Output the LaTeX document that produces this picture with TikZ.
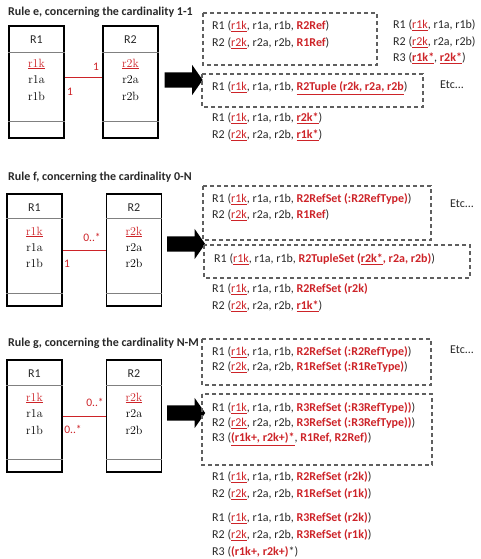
\documentclass[tikz,border=0pt]{standalone}
\usepackage{fontspec}
\setsansfont{Carlito}
\usetikzlibrary{shapes.arrows, positioning}
\definecolor{keyred}{RGB}{205,35,40}
\definecolor{txtgray}{RGB}{40,40,40}
\definecolor{dashgray}{RGB}{95,95,95}
\newcommand{\kk}[1]{\textcolor{keyred}{\underline{#1}}}
\newcommand{\rb}[1]{\textcolor{keyred}{\textbf{#1}}}
\newcommand{\kb}[1]{\textcolor{keyred}{\underline{\textbf{#1}}}}
\tikzset{
  entity/.style={draw, line width=1.3pt, minimum width=55pt, minimum height=112pt, inner sep=0pt},
  sepline/.style={line width=0.7pt, gray},
  head/.style={font=\sffamily\fontsize{12}{14}\selectfont, text=txtgray},
  attr/.style={font=\fontsize{12}{14}\selectfont, text=black, inner sep=0pt},
  relline/.style={keyred, line width=0.8pt},
  card/.style={font=\sffamily\fontsize{11.5}{14}\selectfont, text=keyred, inner sep=0pt},
  bigarrow/.style={single arrow, fill=black, inner sep=7.5pt, minimum height=38pt,
    single arrow head extend=7.5pt, single arrow tip angle=110, shape border rotate=0},
  dashbox/.style={dashgray, line width=1.1pt, dash pattern=on 4pt off 3pt},
  line/.style={anchor=west, font=\sffamily\fontsize{12}{14}\selectfont, text=txtgray, inner sep=0pt},
  title/.style={anchor=west, font=\sffamily\bfseries\fontsize{12}{14}\selectfont, text=txtgray, inner sep=0pt}
}
\begin{document}
\begin{tikzpicture}[x=1pt, y=-1pt]
  \useasboundingbox (0,0) rectangle (480,559);
  % rule e
  \node (te)[title] at (8,12) {Rule e, concerning the cardinality 1-1};
  \node (e1)[entity] at (36.5,82) {};
  \node (e2)[entity] at (130.5,82) {};
  \draw[sepline] (e1.west |- 0,52) -- (e1.east |- 0,52);
  \draw[sepline] (e1.west |- 0,121) -- (e1.east |- 0,121);
  \draw[sepline] (e2.west |- 0,52) -- (e2.east |- 0,52);
  \draw[sepline] (e2.west |- 0,121) -- (e2.east |- 0,121);
  \node (e1n)[head] at (36.5,40) {R1};
  \node (e1k)[attr] at (36.5,64) {\kk{r1k}};
  \node (e1a)[attr] at (36.5,80) {r1a};
  \node (e1b)[attr] at (36.5,96) {r1b};
  \node (e2n)[head] at (130.5,40) {R2};
  \node (e2k)[attr] at (130.5,64) {\kk{r2k}};
  \node (e2a)[attr] at (130.5,80) {r2a};
  \node (e2b)[attr] at (130.5,96) {r2b};
  \draw[relline] (e1.east |- 0,77) -- (e2.west |- 0,77);
  \node (ec2)[card] at (96,67) {1};
  \node (ec1)[card] at (70,92) {1};
  \node (ea)[bigarrow] at (181,80) {};
  \draw[dashbox] (203,13) rectangle (377,65);
  \node (el1)[line] at (212,26) {R1 (\kk{r1k}, r1a, r1b, \rb{R2Ref})};
  \node (el2)[line] at (212,43) {R2 (\kk{r2k}, r2a, r2b, \rb{R1Ref})};
  \node (er1)[line] at (393,25) {R1 (\kk{r1k}, r1a, r1b)};
  \node (er2)[line] at (393,42) {R2 (\kk{r2k}, r2a, r2b)};
  \node (er3)[line] at (393,58) {R3 (\kb{r1k*}, \kb{r2k*})};
  \draw[dashbox] (202,74) rectangle (423,107);
  \node (el3)[line] at (212,88) {R1 (\kk{r1k}, r1a, r1b, \kb{R2Tuple (r2k, r2a, r2b})};
  \node (eetc)[line] at (440,85) {Etc...};
  \node (el4)[line] at (212,118) {R1 (\kk{r1k}, r1a, r1b, \kb{r2k*})};
  \node (el5)[line] at (212,135) {R2 (\kk{r2k}, r2a, r2b, \kb{r1k*})};
  % rule f
  \node (tf)[title] at (8,177) {Rule f, concerning the cardinality 0-N};
  \node (f1)[entity] at (34.5,250) {};
  \node (f2)[entity] at (134,250) {};
  \draw[sepline] (f1.west |- 0,218) -- (f1.east |- 0,218);
  \draw[sepline] (f1.west |- 0,293) -- (f1.east |- 0,293);
  \draw[sepline] (f2.west |- 0,218) -- (f2.east |- 0,218);
  \draw[sepline] (f2.west |- 0,293) -- (f2.east |- 0,293);
  \node (f1n)[head] at (34.5,208) {R1};
  \node (f1k)[attr] at (34.5,232) {\kk{r1k}};
  \node (f1a)[attr] at (34.5,248) {r1a};
  \node (f1b)[attr] at (34.5,263) {r1b};
  \node (f2n)[head] at (134,208) {R2};
  \node (f2k)[attr] at (134,232) {\kk{r2k}};
  \node (f2a)[attr] at (134,248) {r2a};
  \node (f2b)[attr] at (134,263) {r2b};
  \draw[relline] (f1) -- (f2);
  \node (fc2)[card] at (92,237) {0..*};
  \node (fc1)[card] at (67,264) {1};
  \node (fa)[bigarrow] at (183.5,244) {};
  \draw[dashbox] (203,186) rectangle (431,240);
  \node (fl1)[line] at (212,199) {R1 (\kk{r1k}, r1a, r1b, \rb{R2RefSet (:R2RefType)})};
  \node (fl2)[line] at (212,215) {R2 (\kk{r2k}, r2a, r2b, \rb{R1Ref})};
  \node (fetc)[line] at (450,204) {Etc...};
  \draw[dashbox] (204,245) rectangle (470,278);
  \node (fl3)[line] at (214,259) {R1 (\kk{r1k}, r1a, r1b, \rb{R2TupleSet (\underline{r2k*}, r2a, r2b)})};
  \node (fl4)[line] at (212,289) {R1 (\kk{r1k}, r1a, r1b, \rb{R2RefSet (r2k)}};
  \node (fl5)[line] at (212,306) {R2 (\kk{r2k}, r2a, r2b, \kb{r1k*})};
  % rule g
  \node (tg)[title] at (8,343) {Rule g, concerning the cardinality N-M};
  \node (g1)[entity] at (34.5,416) {};
  \node (g2)[entity] at (134,416) {};
  \draw[sepline] (g1.west |- 0,385) -- (g1.east |- 0,385);
  \draw[sepline] (g1.west |- 0,459) -- (g1.east |- 0,459);
  \draw[sepline] (g2.west |- 0,385) -- (g2.east |- 0,385);
  \draw[sepline] (g2.west |- 0,459) -- (g2.east |- 0,459);
  \node (g1n)[head] at (34.5,374) {R1};
  \node (g1k)[attr] at (34.5,398) {\kk{r1k}};
  \node (g1a)[attr] at (34.5,414) {r1a};
  \node (g1b)[attr] at (34.5,430) {r1b};
  \node (g2n)[head] at (134,374) {R2};
  \node (g2k)[attr] at (134,398) {\kk{r2k}};
  \node (g2a)[attr] at (134,414) {r2a};
  \node (g2b)[attr] at (134,430) {r2b};
  \draw[relline] (g1) -- (g2);
  \node (gc2)[card] at (95,402) {0..*};
  \node (gc1)[card] at (73,429) {0..*};
  \node (ga)[bigarrow] at (183.5,413) {};
  \draw[dashbox] (202,339) rectangle (431,385);
  \node (gl1)[line] at (212,352) {R1 (\kk{r1k}, r1a, r1b, \rb{R2RefSet (:R2RefType)})};
  \node (gl2)[line] at (212,367) {R2 (\kk{r2k}, r2a, r2b, \rb{R1RefSet (:R1ReType)})};
  \node (getc)[line] at (450,350) {Etc...};
  \draw[dashbox] (202,394) rectangle (432,465);
  \node (gl3)[line] at (212,408) {R1 (\kk{r1k}, r1a, r1b, \rb{R3RefSet (:R3RefType))})};
  \node (gl4)[line] at (212,423) {R2 (\kk{r2k}, r2a, r2b, \rb{R3RefSet (:R3RefType))})};
  \node (gl5)[line] at (212,439) {R3 (\kb{(r1k+, r2k+)*}, \rb{R1Ref, R2Ref)})};
  \node (gl6)[line] at (212,477) {R1 (\kk{r1k}, r1a, r1b, \rb{R2RefSet (r2k)})};
  \node (gl7)[line] at (212,494) {R2 (\kk{r2k}, r2a, r2b, \rb{R1RefSet (r1k)})};
  \node (gl8)[line] at (212,518) {R1 (\kk{r1k}, r1a, r1b, \rb{R3RefSet (r2k)})};
  \node (gl9)[line] at (212,535) {R2 (\kk{r2k}, r2a, r2b, \rb{R3RefSet (r1k)})};
  \node (gl10)[line] at (212,552) {R3 (\rb{(r1k+, r2k+)}*)};
\end{tikzpicture}
\end{document}
